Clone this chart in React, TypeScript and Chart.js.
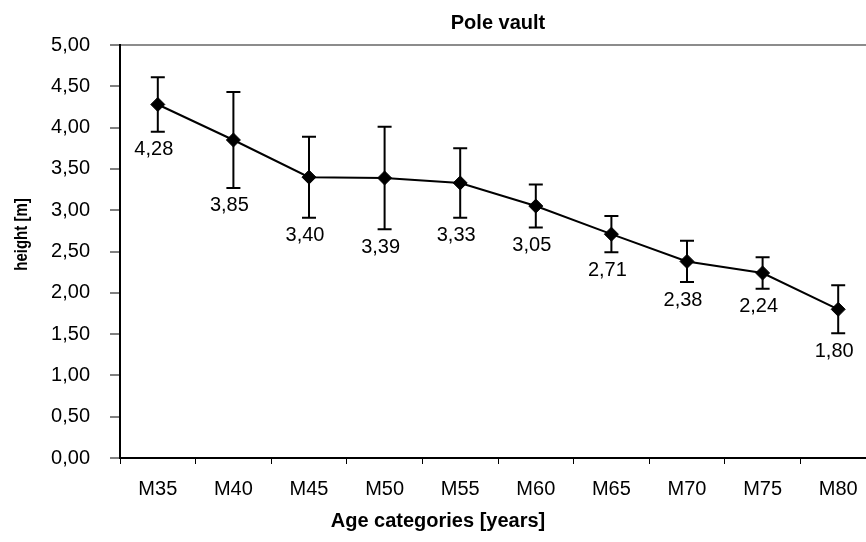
import React, { useEffect, useRef } from 'react';
import { Chart, registerables } from 'chart.js';

Chart.register(...registerables);

const categories = ['M35', 'M40', 'M45', 'M50', 'M55', 'M60', 'M65', 'M70', 'M75', 'M80'];
const heights = [4.28, 3.85, 3.4, 3.39, 3.33, 3.05, 2.71, 2.38, 2.24, 1.8];
const errors = [0.33, 0.58, 0.49, 0.62, 0.42, 0.26, 0.22, 0.25, 0.19, 0.29];
const yMin = 0;
const yMax = 5;
const yStep = 0.5;
const chartTitle = 'Pole vault';
const xTitle = 'Age categories [years]';
const yTitle = 'height [m]';

const FONT = "'Liberation Sans', Arial, sans-serif";
const fmt = (v: number) => v.toFixed(2).replace('.', ',');

const errorBarPlugin = {
  id: 'errorBars',
  beforeDatasetsDraw(chart: any) {
    const meta = chart.getDatasetMeta(0);
    const ys = chart.scales.y;
    const ctx = chart.ctx;
    ctx.save();
    ctx.strokeStyle = '#000';
    ctx.lineWidth = 2;
    meta.data.forEach((pt: any, i: number) => {
      const x = pt.x;
      const top = ys.getPixelForValue(heights[i] + errors[i]);
      const bot = ys.getPixelForValue(heights[i] - errors[i]);
      const cap = 7;
      ctx.beginPath();
      ctx.moveTo(x, top);
      ctx.lineTo(x, bot);
      ctx.moveTo(x - cap, top);
      ctx.lineTo(x + cap, top);
      ctx.moveTo(x - cap, bot);
      ctx.lineTo(x + cap, bot);
      ctx.stroke();
    });
    ctx.restore();
  },
};

const valueLabelPlugin = {
  id: 'valueLabels',
  afterDatasetsDraw(chart: any) {
    const meta = chart.getDatasetMeta(0);
    const ys = chart.scales.y;
    const ctx = chart.ctx;
    ctx.save();
    ctx.fillStyle = '#000';
    ctx.font = `20px ${FONT}`;
    ctx.textAlign = 'center';
    ctx.textBaseline = 'middle';
    meta.data.forEach((pt: any, i: number) => {
      const bot = ys.getPixelForValue(heights[i] - errors[i]);
      ctx.fillText(fmt(heights[i]), pt.x - 4, bot + 18);
    });
    ctx.restore();
  },
};

const yTitlePlugin = {
  id: 'yTitle',
  afterDraw(chart: any) {
    const { chartArea, ctx } = chart;
    ctx.save();
    ctx.fillStyle = '#000';
    ctx.font = `bold 15px ${FONT}`;
    ctx.textAlign = 'center';
    ctx.textBaseline = 'middle';
    ctx.translate(chartArea.left - 98, (chartArea.top + chartArea.bottom) / 2 - 17);
    ctx.rotate(-Math.PI / 2);
    ctx.scale(1, 1.18);
    ctx.fillText(yTitle, 0, 0);
    ctx.restore();
  },
};

export default function App() {
  const ref = useRef<HTMLCanvasElement | null>(null);

  useEffect(() => {
    document.body.style.margin = '0';
    if (!ref.current) return;
    Chart.defaults.font.family = FONT;
    Chart.defaults.color = '#000';
    const chart = new Chart(ref.current, {
      type: 'line',
      data: {
        labels: categories,
        datasets: [
          {
            data: heights,
            borderColor: '#000',
            borderWidth: 2,
            pointStyle: 'rectRot',
            pointRadius: 7,
            pointBackgroundColor: '#000',
            pointBorderColor: '#000',
            pointBorderWidth: 1,
            tension: 0,
            clip: false as any,
          },
        ],
      },
      options: {
        animation: false,
        responsive: false,
        devicePixelRatio: 1,
        layout: { padding: { left: 0, right: 47, top: 0, bottom: 0 } },
        plugins: {
          legend: { display: false },
          tooltip: { enabled: false },
          title: {
            display: true,
            text: chartTitle,
            fullSize: false,
            color: '#000',
            font: { family: FONT, size: 20, weight: 'bold' },
            padding: { top: 11, bottom: 10 },
          },
          subtitle: {
            display: true,
            text: xTitle,
            position: 'bottom',
            fullSize: true,
            color: '#000',
            font: { family: FONT, size: 20, weight: 'bold' },
            padding: { top: 0, bottom: 9 },
          },
        },
        scales: {
          x: {
            type: 'category',
            offset: true,
            afterFit: (s: any) => {
              s.height = 51;
            },
            grid: {
              offset: true,
              drawOnChartArea: false,
              drawTicks: true,
              tickLength: 6,
              tickColor: '#000',
              tickWidth: 1,
            },
            border: { display: true, color: '#000', width: 2 },
            ticks: {
              color: '#000',
              font: { family: FONT, size: 20 },
              padding: 13,
              maxRotation: 0,
              autoSkip: false,
            },
          },
          y: {
            min: yMin,
            max: yMax,
            afterFit: (s: any) => {
              s.width = 120;
            },
            grid: {
              drawOnChartArea: true,
              color: (c: any) => (c.tick && c.tick.value === yMax ? '#8c8c8c' : 'rgba(0,0,0,0)'),
              lineWidth: 2,
              drawTicks: true,
              tickLength: 10,
              tickColor: '#000',
              tickWidth: 1,
            },
            border: { display: true, color: '#000', width: 2 },
            ticks: {
              stepSize: yStep,
              color: '#000',
              font: { family: FONT, size: 20 },
              padding: 20,
              callback: (v: any) => fmt(Number(v)),
            },
          },
        },
      },
      plugins: [errorBarPlugin, valueLabelPlugin, yTitlePlugin],
    });
    return () => chart.destroy();
  }, []);

  return (
    <div style={{ width: 866, height: 542, overflow: 'hidden', background: '#fff' }}>
      <canvas ref={ref} width={923} height={542} style={{ width: 923, height: 542, display: 'block' }} />
    </div>
  );
}
